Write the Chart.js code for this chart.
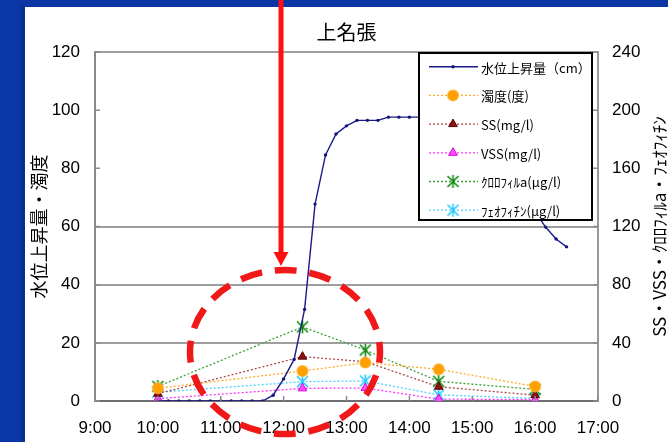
<!DOCTYPE html>
<html>
<head>
<meta charset="utf-8">
<style>
html,body{margin:0;padding:0;background:#0b36a6;}
#wrap{width:668px;height:442px;position:relative;}
</style>
<script src="https://cdn.jsdelivr.net/npm/chart.js@4.4.1/dist/chart.umd.min.js"></script>
</head>
<body>
<div id="wrap"><canvas id="c" width="668" height="442"></canvas></div>
<script>
// ---------- data ----------
const chartTitle = "上名張";
const xTickLabels = ["9:00","10:00","11:00","12:00","13:00","14:00","15:00","16:00","17:00"];
const leftTicks = [0,20,40,60,80,100,120];
const rightTicks = [0,40,80,120,160,200,240];
const leftAxisTitle = "水位上昇量・濁度";
const rightAxisTitle = "SS・VSS・ｸﾛﾛﾌｨﾙa・ﾌｪｵﾌｨﾁﾝ";

const levelTimes = ["10:00","10:10","10:20","10:30","10:40","10:50","11:00","11:10","11:20","11:30",
  "11:40","11:50","12:00","12:10","12:20","12:30","12:40","12:50","13:00","13:10",
  "13:20","13:30","13:40","13:50","14:00","14:10","14:20","14:30","14:40","14:50",
  "15:00","15:10","15:20","15:30","15:40","15:50","16:00","16:10","16:20","16:30"];
const levelValues = [0,0,0,0,0,0,0,0,0,0,
  0,2,7.6,14.3,31.5,67.7,84.6,91.8,94.6,96.5,
  96.5,96.5,97.6,97.6,97.6,97.6,97.6,97.6,97,96,
  94,91,87,83,78,72,65,59.8,55.7,53];

const sampleTimes = ["10:00","12:18","13:18","14:28","16:00"];
const turbidity   = [4.4,10.3,13.2,10.9,5.0];
const ssValues    = [5,30.5,27,9.8,4];
const vssValues   = [1.6,8.7,8.9,1.3,1];
const chlorophyll = [10,51,35,13.5,8];
const pheophytin  = [6,13.3,13.8,4.2,1.8];

const seriesLabels = ["水位上昇量（cm）","濁度(度)","SS(mg/l)","VSS(mg/l)","ｸﾛﾛﾌｨﾙa(μg/l)","ﾌｪｵﾌｨﾁﾝ(μg/l)"];

// ---------- helpers ----------
function toHours(t){ const p = t.split(":"); return Number(p[0]) + Number(p[1])/60; }
function pts(times, vals){ return times.map((t,i)=>({x:toHours(t), y:vals[i]})); }
function starCanvas(color){
  const s = 15, c = document.createElement('canvas'); c.width = s; c.height = s;
  const g = c.getContext('2d'); g.strokeStyle = color; g.lineWidth = 1.6;
  g.beginPath();
  g.moveTo(2,2); g.lineTo(s-2,s-2);
  g.moveTo(s-2,2); g.lineTo(2,s-2);
  g.moveTo(s/2,1); g.lineTo(s/2,s-1);
  g.stroke();
  return c;
}
const greenStar = starCanvas('#108a10');
const cyanStar = starCanvas('#22c8ff');
const dotted = [2,2];

const datasets = [
  {label:seriesLabels[0], data:pts(levelTimes,levelValues), yAxisID:'y', borderColor:'#1a1a8a', borderWidth:1.4,
   pointRadius:1.7, pointBorderWidth:0, pointBackgroundColor:'#14147a', pointStyle:'circle'},
  {label:seriesLabels[1], data:pts(sampleTimes,turbidity), yAxisID:'y', borderColor:'#ffab2a', borderWidth:1.3, borderDash:dotted,
   pointRadius:5.5, pointBackgroundColor:'#ffa000', pointBorderColor:'rgba(255,180,60,0.6)', pointBorderWidth:1.5, pointStyle:'circle'},
  {label:seriesLabels[2], data:pts(sampleTimes,ssValues), yAxisID:'y2', borderColor:'#b04848', borderWidth:1.3, borderDash:dotted,
   pointRadius:5, pointBackgroundColor:'#8b1212', pointBorderColor:'#5a0000', pointBorderWidth:1, pointStyle:'triangle'},
  {label:seriesLabels[3], data:pts(sampleTimes,vssValues), yAxisID:'y2', borderColor:'#ff38ff', borderWidth:1.3, borderDash:dotted,
   pointRadius:5, pointBackgroundColor:'#ff50ff', pointBorderColor:'#e000e0', pointBorderWidth:1, pointStyle:'triangle'},
  {label:seriesLabels[4], data:pts(sampleTimes,chlorophyll), yAxisID:'y2', borderColor:'#3aa03a', borderWidth:1.3, borderDash:dotted,
   pointRadius:7, pointStyle:greenStar},
  {label:seriesLabels[5], data:pts(sampleTimes,pheophytin), yAxisID:'y2', borderColor:'#4cd2ff', borderWidth:1.3, borderDash:dotted,
   pointRadius:7, pointStyle:cyanStar}
];

// ---------- plugins ----------
const framePlugin = {
  id:'frame',
  beforeDraw(chart){
    const ctx = chart.ctx;
    ctx.save();
    ctx.fillStyle = '#0b36a6'; ctx.fillRect(0,0,chart.width,chart.height);
    ctx.fillStyle = '#0a2f92'; ctx.fillRect(21,5,4,chart.height);
    ctx.fillStyle = '#ffffff'; ctx.fillRect(25,7,chart.width-25,chart.height-7);
    ctx.restore();
  }
};

const decorPlugin = {
  id:'decor',
  afterDraw(chart){
    const ctx = chart.ctx, a = chart.chartArea;
    const xs = chart.scales.x, ys = chart.scales.y, y2 = chart.scales.y2;
    ctx.save();
    // inner tick marks
    ctx.strokeStyle = '#8c8c8c'; ctx.lineWidth = 1.5;
    ctx.beginPath();
    leftTicks.forEach(v=>{ const y = ys.getPixelForValue(v); ctx.moveTo(a.left, y); ctx.lineTo(a.left+5, y); });
    rightTicks.forEach(v=>{ const y = y2.getPixelForValue(v); ctx.moveTo(a.right, y); ctx.lineTo(a.right-5, y); });
    xTickLabels.forEach((l,i)=>{ const x = xs.getPixelForValue(toHours(l)); ctx.moveTo(x, a.bottom); ctx.lineTo(x, a.bottom-5); });
    ctx.stroke();

    // right axis title (reads bottom to top)
    ctx.save();
    ctx.translate(660, (a.top+a.bottom)/2);
    ctx.rotate(-Math.PI/2);
    ctx.fillStyle = '#000';
    ctx.font = '17px "Noto Sans CJK JP"';
    ctx.textAlign = 'center'; ctx.textBaseline = 'middle';
    ctx.fillText(rightAxisTitle, 0, 0);
    ctx.restore();

    // legend box inside plot
    const L = 418, T = a.top, R = a.right-5, B = 221;
    ctx.fillStyle = '#fff'; ctx.fillRect(L, T, R-L, B-T);
    ctx.strokeStyle = '#000'; ctx.lineWidth = 2; ctx.setLineDash([]);
    ctx.strokeRect(L+1, T+1, R-L-2, B-T-2);
    ctx.font = '13px "Noto Sans CJK JP"'; ctx.textAlign = 'left'; ctx.textBaseline = 'middle';
    chart.data.datasets.forEach((ds,i)=>{
      const y = 66.7 + i*28.7;
      ctx.save();
      ctx.strokeStyle = ds.borderColor; ctx.lineWidth = ds.borderWidth;
      ctx.setLineDash(ds.borderDash || []);
      ctx.beginPath(); ctx.moveTo(429, y); ctx.lineTo(478, y); ctx.stroke();
      ctx.setLineDash([]);
      ctx.fillStyle = ds.pointBackgroundColor || '#000';
      ctx.strokeStyle = ds.pointBorderColor || ds.borderColor;
      ctx.lineWidth = ds.pointBorderWidth || 0;
      Chart.helpers.drawPoint(ctx, {pointStyle: ds.pointStyle, radius: ds.pointRadius, borderWidth: ds.pointBorderWidth||0, rotation:0}, 453, y);
      ctx.restore();
      ctx.fillStyle = '#000';
      ctx.fillText(ds.label, 481, y+1);
    });

    // red dashed ellipse
    ctx.strokeStyle = '#f01818'; ctx.lineWidth = 6.5;
    ctx.setLineDash([22,12.8]); ctx.lineDashOffset = 11;
    ctx.beginPath(); ctx.ellipse(285, 352, 95, 82, 0, 0, Math.PI*2); ctx.stroke();
    ctx.setLineDash([]);

    // red arrow
    ctx.fillStyle = '#ff1010';
    ctx.fillRect(278.5, 0, 5, 254);
    ctx.beginPath(); ctx.moveTo(273.5, 252); ctx.lineTo(288.5, 252); ctx.lineTo(281, 266); ctx.closePath(); ctx.fill();
    ctx.restore();
  }
};

const gridShown = [20,40,60,120];

new Chart(document.getElementById('c'), {
  type:'line',
  data:{datasets},
  options:{
    responsive:false, animation:false, devicePixelRatio:1,
    layout:{padding:0},
    plugins:{
      legend:{display:false},
      tooltip:{enabled:false},
      title:{display:true, text:chartTitle, color:'#000', fullSize:false,
        font:{family:'"Noto Sans CJK JP"', size:20, weight:'normal', lineHeight:1.2},
        padding:{top:20, bottom:8}}
    },
    scales:{
      x:{type:'linear', min:9, max:17,
        afterBuildTicks(s){ s.ticks = xTickLabels.map(l=>({value:toHours(l)})); },
        afterFit(s){ s.height = 41; },
        ticks:{callback:(v)=>xTickLabels[Math.round(v)-9], color:'#000', padding:17, maxRotation:0, autoSkip:false,
          font:{family:'"Liberation Sans", Arial, sans-serif', size:17}},
        grid:{display:false, drawTicks:false},
        border:{display:true, color:'#6e6e6e', width:2}
      },
      y:{type:'linear', position:'left', min:0, max:120,
        afterBuildTicks(s){ s.ticks = leftTicks.map(v=>({value:v})); },
        afterFit(s){ s.width = 95; },
        ticks:{color:'#000', padding:15, font:{family:'"Liberation Sans", Arial, sans-serif', size:17}},
        grid:{drawTicks:false, lineWidth:2, color:(c)=> gridShown.includes(c.tick && c.tick.value) ? '#9e9e9e' : 'rgba(0,0,0,0)'},
        border:{display:true, color:'#8a8a8a', width:2},
        title:{display:true, text:leftAxisTitle, color:'#000', padding:{top:28, bottom:0},
          font:{family:'"Noto Sans CJK JP"', size:18, lineHeight:1.2}}
      },
      y2:{type:'linear', position:'right', min:0, max:240,
        afterBuildTicks(s){ s.ticks = rightTicks.map(v=>({value:v})); },
        afterFit(s){ s.width = 70; },
        ticks:{color:'#000', padding:14, font:{family:'"Liberation Sans", Arial, sans-serif', size:17}},
        grid:{drawOnChartArea:false, drawTicks:false},
        border:{display:true, color:'#9a9a9a', width:2}
      }
    }
  },
  plugins:[framePlugin, decorPlugin]
});
</script>
</body>
</html>
